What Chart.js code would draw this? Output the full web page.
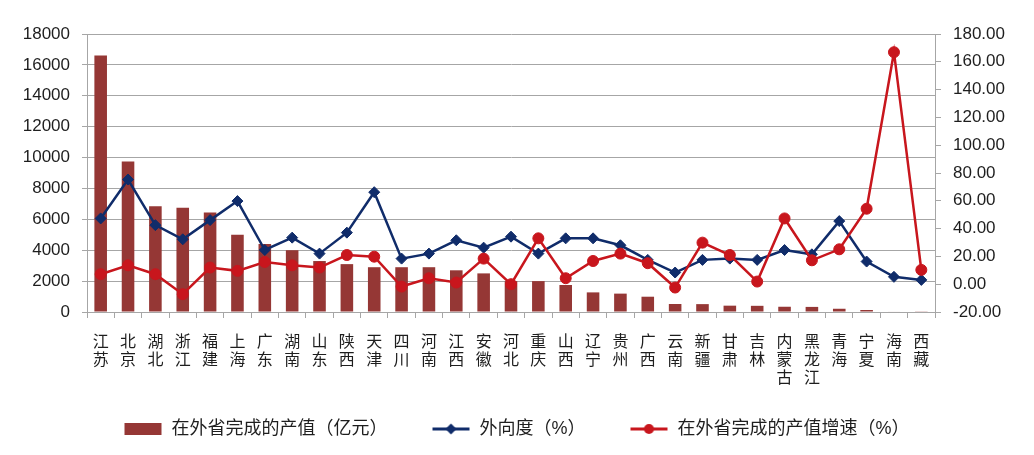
<!DOCTYPE html>
<html><head><meta charset="utf-8">
<script src="https://cdn.jsdelivr.net/npm/chart.js@4/dist/chart.umd.min.js"></script>
<style>html,body{margin:0;padding:0;background:#fff;overflow:hidden;}</style>
</head><body>
<canvas id="c" width="1034" height="455"></canvas>
<script>
const categories = ['江苏','北京','湖北','浙江','福建','上海','广东','湖南','山东','陕西','天津','四川','河南','江西','安徽','河北','重庆','山西','辽宁','贵州','广西','云南','新疆','甘肃','吉林','内蒙古','黑龙江','青海','宁夏','海南','西藏'];
const outputValue = [16600, 9750, 6850, 6750, 6450, 5000, 4400, 4000, 3300, 3100, 2900, 2900, 2900, 2700, 2500, 2000, 2000, 1750, 1270, 1190, 990, 520, 510, 410, 400, 340, 330, 210, 130, 30, 20];
const outwardDegree = [47.3, 75.3, 42.5, 32.3, 46.1, 59.8, 24.6, 33.5, 22.0, 37.1, 66.2, 18.4, 22.0, 31.6, 26.3, 34.2, 22.0, 33.0, 33.0, 28.0, 17.5, 8.4, 17.5, 18.4, 17.5, 24.6, 21.5, 45.4, 16.3, 5.3, 3.1];
const outputGrowth = [7.2, 13.6, 7.2, -7.2, 12.0, 9.6, 16.0, 13.6, 12.0, 21.0, 19.8, -1.7, 4.3, 1.2, 18.4, 0.0, 33.0, 4.3, 16.7, 22.0, 15.1, -2.4, 29.9, 21.0, 1.9, 47.3, 17.2, 25.1, 54.3, 166.9, 10.3];
const leftTicks = [0, 2000, 4000, 6000, 8000, 10000, 12000, 14000, 16000, 18000];
const rightTicks = [-20, 0, 20, 40, 60, 80, 100, 120, 140, 160, 180];
const seriesNames = ['在外省完成的产值（亿元）', '外向度（%）', '在外省完成的产值增速（%）'];

const BAR = '#953735', BLUE = '#102C6A', RED = '#C8161D', GRID = '#A6A6A6', TXT = '#1e1e1e';
Chart.defaults.font.family = '"Liberation Sans", Arial, "Noto Sans CJK SC", sans-serif';

const ICON_GAP = 17, ICON_W = 38, ICON_H = 12;
function icon(kind) {
  const cv = document.createElement('canvas');
  cv.width = ICON_GAP + ICON_W; cv.height = ICON_H;
  const g = cv.getContext('2d');
  g.translate(ICON_GAP, 0);
  if (kind === 'bar') { g.fillStyle = BAR; g.fillRect(0, 0, ICON_W - 1, ICON_H); return cv; }
  const col = kind === 'blue' ? BLUE : RED;
  const cy = ICON_H / 2;
  g.strokeStyle = col; g.lineWidth = 3;
  g.beginPath(); g.moveTo(0, cy); g.lineTo(ICON_W - 1, cy); g.stroke();
  g.fillStyle = col; g.beginPath();
  if (kind === 'blue') { g.moveTo(18.5, cy - 5.5); g.lineTo(24, cy); g.lineTo(18.5, cy + 5.5); g.lineTo(13, cy); g.closePath(); }
  else { g.arc(18.5, cy, 5, 0, Math.PI * 2); }
  g.fill();
  return cv;
}
const legendIcons = [icon('bar'), icon('blue'), icon('red')];

new Chart(document.getElementById('c'), {
  type: 'bar',
  data: {
    labels: categories.map(s => s.split('')),
    datasets: [
      { type: 'bar', label: seriesNames[0], data: outputValue, backgroundColor: BAR, yAxisID: 'y', barPercentage: 0.46, categoryPercentage: 1, order: 3 },
      { type: 'line', label: seriesNames[1], data: outwardDegree, yAxisID: 'y1', borderColor: BLUE, backgroundColor: BLUE, borderWidth: 2.5, pointStyle: 'rectRot', pointRadius: 5.5, pointBorderWidth: 1, pointBackgroundColor: BLUE, pointBorderColor: BLUE, tension: 0, order: 2 },
      { type: 'line', label: seriesNames[2], data: outputGrowth, yAxisID: 'y1', borderColor: RED, backgroundColor: RED, borderWidth: 2.5, pointStyle: 'circle', pointRadius: 5.5, pointBorderWidth: 1, pointBackgroundColor: RED, pointBorderColor: RED, tension: 0, order: 1 }
    ]
  },
  options: {
    responsive: false,
    animation: false,
    events: [],
    layout: { padding: { top: 34, left: 0, right: 17, bottom: 7 } },
    plugins: {
      tooltip: { enabled: false },
      legend: {
        position: 'bottom',
        labels: {
          usePointStyle: true, pointStyleWidth: ICON_GAP + ICON_W, padding: 28,
          font: { size: 18 }, color: TXT,
          sort: (a, b) => a.datasetIndex - b.datasetIndex,
          generateLabels: chart => Chart.defaults.plugins.legend.labels.generateLabels(chart)
            .map(it => Object.assign({}, it, { pointStyle: legendIcons[it.datasetIndex], lineWidth: 0 }))
        }
      }
    },
    scales: {
      x: {
        offset: true,
        grid: { offset: true, drawOnChartArea: false, drawTicks: true, tickLength: 6, color: GRID, tickColor: GRID },
        border: { color: GRID, width: 1 },
        ticks: { maxRotation: 0, minRotation: 0, autoSkip: false, padding: 15, font: { size: 16, lineHeight: 1.15 }, color: TXT },
        afterFit: s => { s.height = 80; }
      },
      y: {
        position: 'left', min: 0, max: 18000,
        afterBuildTicks: s => { s.ticks = leftTicks.map(v => ({ value: v })); },
        grid: { color: GRID, tickColor: GRID, tickLength: 5, lineWidth: 1 },
        border: { color: GRID, width: 1 },
        ticks: { padding: 12, font: { size: 17 }, color: TXT, callback: v => String(v) },
        afterFit: s => { s.width = 87; }
      },
      y1: {
        position: 'right', min: -20, max: 180,
        afterBuildTicks: s => { s.ticks = rightTicks.map(v => ({ value: v })); },
        grid: { drawOnChartArea: false, color: GRID, tickColor: GRID, tickLength: 6 },
        border: { color: GRID, width: 1 },
        ticks: { padding: 12, font: { size: 17 }, color: TXT, callback: v => Number(v).toFixed(2) },
        afterFit: s => { s.width = 82; }
      }
    }
  }
});
</script>
</body></html>
